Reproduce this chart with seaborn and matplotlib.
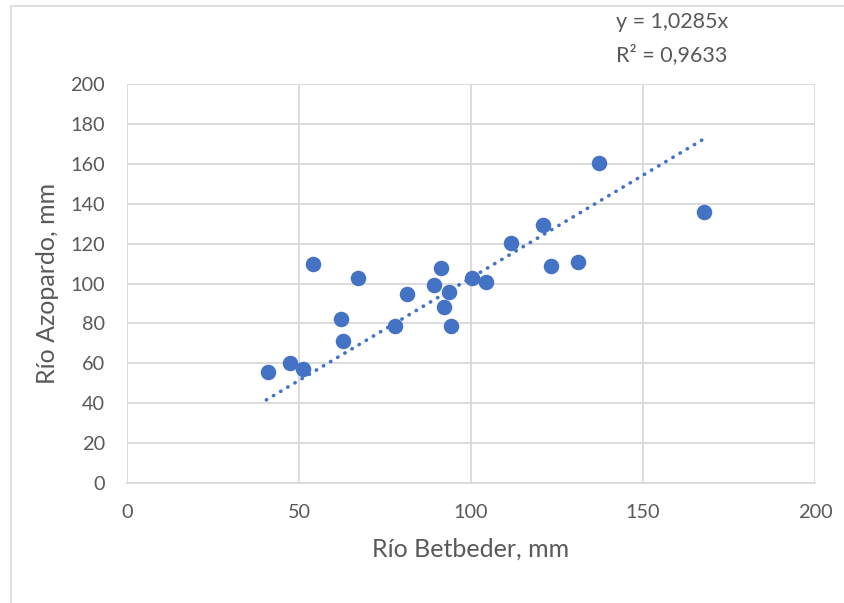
import numpy as np
import pandas as pd
import matplotlib
matplotlib.use("Agg")
import matplotlib.pyplot as plt
import seaborn as sns

betbeder = [41.0, 47.4, 51.2, 54.1, 62.2, 62.8, 67.2, 77.9, 81.4, 89.2, 91.3,
            92.2, 93.6, 94.2, 100.3, 104.4, 111.6, 120.9, 123.3, 131.1, 137.2, 167.7]
azopardo = [55.6, 60.2, 57.1, 109.8, 82.2, 71.2, 102.8, 78.7, 94.7, 99.2, 107.8,
            88.2, 95.7, 78.7, 102.8, 100.8, 120.3, 129.3, 108.8, 110.8, 160.4, 135.8]
slope = 1.0285
r2 = 0.9633
x_ticks = [0, 50, 100, 150, 200]
y_ticks = [0, 20, 40, 60, 80, 100, 120, 140, 160, 180, 200]

df = pd.DataFrame({"Betbeder": betbeder, "Azopardo": azopardo})

sns.set_theme(style="white")
plt.rcParams['font.family'] = ['Lato', 'DejaVu Sans']

fig = plt.figure(figsize=(8.45, 6.03), dpi=100)
ax = fig.add_axes([0.1503, 0.199, 0.8142, 0.6617])

blue = "#4472C4"
gray = "#595959"

xs = np.array([min(betbeder) - 0.5, max(betbeder)])
ax.plot(xs, slope * xs, linestyle=(0, (0.1, 2.2)), color=blue, lw=2.6,
        dash_capstyle="round", solid_capstyle="round", zorder=2)

sns.scatterplot(data=df, x="Betbeder", y="Azopardo", ax=ax, s=125, color=blue,
                edgecolor=blue, linewidth=0, zorder=3)

ax.set_xlim(0, 200)
ax.set_ylim(0, 200)
ax.set_xticks(x_ticks)
ax.set_yticks(y_ticks)
ax.grid(True, color="#d9d9d9", lw=1.3)
ax.set_axisbelow(True)
for s in ["top", "right", "left"]:
    ax.spines[s].set_visible(False)
ax.spines["bottom"].set_color("#d9d9d9")
ax.spines["bottom"].set_linewidth(1.3)
ax.tick_params(axis="both", length=0, labelsize=14.3, labelcolor=gray)
ax.tick_params(axis="x", pad=15)
ax.tick_params(axis="y", pad=16)
ax.set_xlabel("Río Betbeder, mm", fontsize=18, color=gray, labelpad=12)
ax.set_ylabel("Río Azopardo, mm", fontsize=18, color=gray, labelpad=8)

fig.text(672 / 845, 1 - 22 / 603, "y = 1,0285x", ha="center", va="center",
         fontsize=15.5, color=gray)
fig.text(672 / 845, 1 - 55 / 603, "R² = 0,9633", ha="center", va="center",
         fontsize=15.5, color=gray)

# chart frame lines (top and left)
fig.add_artist(plt.Line2D([11 / 845, 1], [1 - 6 / 603, 1 - 6 / 603],
                          color="#d9d9d9", lw=1.2, transform=fig.transFigure))
fig.add_artist(plt.Line2D([11 / 845, 11 / 845], [0, 1 - 6 / 603],
                          color="#d9d9d9", lw=1.2, transform=fig.transFigure))

fig.savefig("out.png", dpi=100)
